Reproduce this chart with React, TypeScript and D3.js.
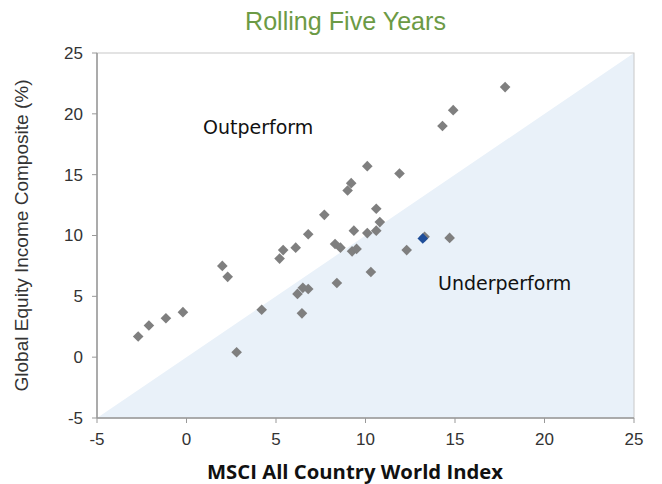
import React from "react";
import * as d3 from "d3";

// x = MSCI ACWI, y = Global Equity Income Composite (rolling 5 yr, %)
const xVals = [
  -2.7, -2.1, -1.15, -0.2, 2.8, 2.0, 2.3, 4.2, 5.2, 5.4, 6.1, 6.8,
  6.2, 6.5, 6.8, 6.45, 8.4, 10.3, 9.35, 8.3, 8.6, 9.25, 9.5, 10.1,
  10.6, 10.8, 17.8, 14.9, 14.3, 10.1, 11.9, 9.2, 9.0, 7.7, 10.6, 12.3,
  13.3, 14.7,
];
const yVals = [
  1.7, 2.6, 3.2, 3.7, 0.4, 7.5, 6.6, 3.9, 8.1, 8.8, 9.0, 10.1,
  5.2, 5.7, 5.6, 3.6, 6.1, 7.0, 10.4, 9.3, 9.0, 8.7, 8.9, 10.2,
  10.4, 11.1, 22.2, 20.3, 19.0, 15.7, 15.1, 14.3, 13.7, 11.7, 12.2, 8.8,
  9.9, 9.8,
];
// latest period, highlighted
const currentPoint = [13.2, 9.75];

const xTicks = [-5, 0, 5, 10, 15, 20, 25];
const yTicks = [-5, 0, 5, 10, 15, 20, 25];

const W = 662;
const H = 484;
const margin = { top: 53, right: 28, bottom: 66, left: 97 };

export default function App() {
  const x = d3.scaleLinear().domain([-5, 25]).range([margin.left, W - margin.right]);
  const y = d3.scaleLinear().domain([-5, 25]).range([H - margin.bottom, margin.top]);

  const diamond = d3.symbol().type(d3.symbolDiamond2).size(72)();
  const pts = xVals.map((v, i) => [v, yVals[i]]);

  const tri = `M${x(-5)},${y(-5)}L${x(25)},${y(25)}L${x(25)},${y(-5)}Z`;
  const midX = (x(-5) + x(25)) / 2;

  return (
    <svg width={W} height={H} style={{ position: "absolute", left: 0, top: 0, background: "#fff" }}>
      <text
        x={midX - 20}
        y={30}
        textAnchor="middle"
        fill="#6c9a45"
        textLength={201}
        lengthAdjust="spacingAndGlyphs"
        style={{ fontFamily: "'Liberation Sans', sans-serif", fontSize: 26 }}
      >
        Rolling Five Years
      </text>

      <path d={tri} fill="#e9f1f9" />
      <rect
        x={x(-5)}
        y={y(25)}
        width={x(25) - x(-5)}
        height={y(-5) - y(25)}
        fill="none"
        stroke="#c8c8c8"
        strokeWidth={1}
      />

      {/* y axis */}
      <line x1={x(-5)} x2={x(-5)} y1={y(25)} y2={y(-5)} stroke="#999" strokeWidth={1.5} />
      {yTicks.map((t) => (
        <g key={"y" + t}>
          <line x1={x(-5) - 5} x2={x(-5)} y1={y(t)} y2={y(t)} stroke="#999" />
          <text
            x={x(-5) - 14}
            y={y(t)}
            dy="0.35em"
            textAnchor="end"
            fill="#333"
            style={{ fontFamily: "'Liberation Sans', Arial, sans-serif", fontSize: 17 }}
          >
            {t}
          </text>
        </g>
      ))}

      {/* x axis */}
      <line x1={x(-5)} x2={x(25)} y1={y(-5)} y2={y(-5)} stroke="#999" strokeWidth={1.5} />
      {xTicks.map((t) => (
        <g key={"x" + t}>
          <line x1={x(t)} x2={x(t)} y1={y(-5)} y2={y(-5) + 5} stroke="#999" />
          <text
            x={x(t)}
            y={y(-5) + 27}
            textAnchor="middle"
            fill="#333"
            style={{ fontFamily: "'Liberation Sans', Arial, sans-serif", fontSize: 17 }}
          >
            {t}
          </text>
        </g>
      ))}

      {pts.map((p, i) => (
        <path key={i} d={diamond!} transform={`translate(${x(p[0])},${y(p[1])})`} fill="#7f7f7f" />
      ))}
      <path
        d={diamond!}
        transform={`translate(${x(currentPoint[0])},${y(currentPoint[1])})`}
        fill="#1f4e9a"
      />

      <text
        x={203}
        y={134}
        fill="#111"
        style={{ fontFamily: "'DejaVu Sans', sans-serif", fontSize: 19 }}
      >
        Outperform
      </text>
      <text
        x={438}
        y={290}
        fill="#111"
        style={{ fontFamily: "'DejaVu Sans', sans-serif", fontSize: 19 }}
      >
        Underperform
      </text>

      <text
        transform={`translate(28,${(y(25) + y(-5)) / 2}) rotate(-90)`}
        textAnchor="middle"
        fill="#333"
        textLength={312}
        lengthAdjust="spacingAndGlyphs"
        style={{ fontFamily: "'Liberation Sans', sans-serif", fontSize: 18 }}
      >
        Global Equity Income Composite (%)
      </text>
      <text
        x={355}
        y={479}
        textAnchor="middle"
        fill="#111"
        textLength={296}
        lengthAdjust="spacingAndGlyphs"
        style={{ fontFamily: "'Open Sans', 'Liberation Sans', sans-serif", fontSize: 20, fontWeight: 700 }}
      >
        MSCI All Country World Index
      </text>
    </svg>
  );
}
